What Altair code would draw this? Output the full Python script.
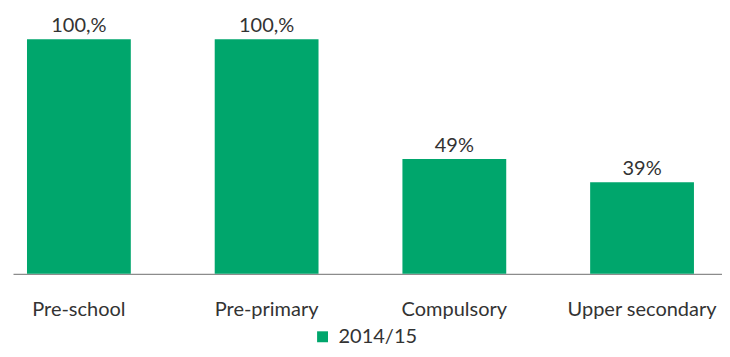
import altair as alt
import pandas as pd

categories = ["Pre-school", "Pre-primary", "Compulsory", "Upper secondary"]
values = [100, 100, 49, 39]
value_labels = ["100,%", "100,%", "49%", "39%"]
series_name = "2014/15"

df = pd.DataFrame({
    "category": categories,
    "value": values,
    "label": value_labels,
    "series": [series_name] * len(categories),
})

FONT = "Lato"
TEXT_COLOR = "#333333"
GREEN = "#00a66c"
FS = 20

x = alt.X("category:N", sort=categories,
          scale=alt.Scale(paddingInner=0.447, paddingOuter=0.112, align=0.333),
          axis=alt.Axis(title=None, labelAngle=0, ticks=False, domainColor="#8c8c8c",
                        domainWidth=1.2, labelFont=FONT, labelFontSize=FS,
                        labelColor=TEXT_COLOR, labelPadding=26))
y = alt.Y("value:Q", scale=alt.Scale(domain=[0, 100]), axis=None)

bars = alt.Chart(df).mark_bar(color=GREEN).encode(
    x=x, y=y,
    color=alt.Color("series:N", scale=alt.Scale(range=[GREEN]),
                    legend=alt.Legend(title=None, orient="none", legendX=300, legendY=288,
                                      direction="horizontal", symbolType="square",
                                      symbolSize=120, symbolStrokeWidth=0, padding=0,
                                      labelFont=FONT, labelFontSize=FS, labelOffset=6,
                                      labelColor=TEXT_COLOR)),
)
text = alt.Chart(df).mark_text(baseline="alphabetic", dy=-7, font=FONT, fontSize=FS,
                               color=TEXT_COLOR).encode(
    x=alt.X("category:N", sort=categories), y=y, text="label:N")

chart = (bars + text).properties(
    width=710, height=235,
    autosize=alt.AutoSizeParams(type="none"),
    padding={"left": 5, "top": 31, "right": 0, "bottom": 75},
).configure_view(stroke=None)

chart.save("out.html", embed_options={"renderer": "svg", "actions": False})
